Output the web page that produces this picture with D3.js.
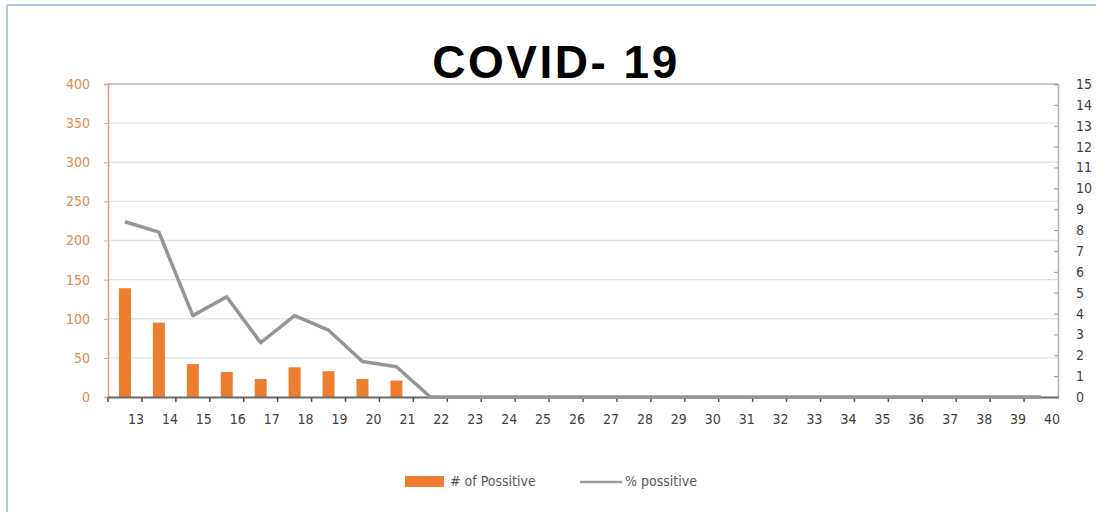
<!DOCTYPE html>
<html>
<head>
<meta charset="utf-8">
<script src="https://cdn.jsdelivr.net/npm/d3@7"></script>
<style>
body { margin: 0; background: #fff; }
svg { display: block; }
.axis text { font-family: "Liberation Sans Narrow", "DejaVu Sans Condensed", "Liberation Sans", sans-serif; }
</style>
</head>
<body>
<script>
// data
var weeks = ["13","14","15","16","17","18","19","20","21","22","23","24","25","26","27","28","29","30","31","32","33","34","35","36","37","38","39","40"];
var positives = [139, 95, 42, 32, 23, 38, 33, 23, 21, null, null, null, null, null, null, null, null, null, null, null, null, null, null, null, null, null, null, null];
var pctPositive = [8.4, 7.9, 3.9, 4.8, 2.6, 3.9, 3.2, 1.7, 1.45, 0, 0, 0, 0, 0, 0, 0, 0, 0, 0, 0, 0, 0, 0, 0, 0, 0, 0, 0];
var leftTicks = [0, 50, 100, 150, 200, 250, 300, 350, 400];
var rightTicks = [0,1,2,3,4,5,6,7,8,9,10,11,12,13,14,15];

var W = 1096, H = 512;
var margin = {top: 84, right: 38, bottom: 115, left: 108};
var width = W - margin.left - margin.right,
    height = H - margin.top - margin.bottom;

var svg = d3.select("body").append("svg")
    .attr("width", W)
    .attr("height", H);

// outer frame (top + left edge visible)
svg.append("line").attr("x1", 7).attr("x2", W).attr("y1", 5).attr("y2", 5)
    .attr("stroke", "#b4c7e7").attr("stroke-width", 2);
svg.append("line").attr("x1", 7).attr("x2", 7).attr("y1", 5).attr("y2", H)
    .attr("stroke", "#b4c7e7").attr("stroke-width", 2);

svg.append("text")
    .attr("x", 556).attr("y", 78)
    .attr("text-anchor", "middle")
    .attr("font-family", "Liberation Sans, Arial, sans-serif")
    .attr("font-weight", "bold")
    .attr("font-size", 46)
    .attr("letter-spacing", 2.5)
    .attr("fill", "#000")
    .text("COVID- 19");

var g = svg.append("g").attr("transform", "translate(" + margin.left + "," + margin.top + ")");

var x = d3.scaleBand().domain(weeks).range([0, width]);
var yL = d3.scaleLinear().domain([0, 400]).range([height, 0]);
var yR = d3.scaleLinear().domain([0, 15]).range([height, 0]);

// gridlines
g.append("g")
    .selectAll("line")
    .data(leftTicks.slice(1))
    .join("line")
    .attr("x1", 0).attr("x2", width)
    .attr("y1", function(d) { return yL(d); })
    .attr("y2", function(d) { return yL(d); })
    .attr("stroke", function(d) { return d == 400 ? "#c8c8c8" : "#e3e3e3"; })
    .attr("stroke-width", function(d) { return d == 400 ? 2 : 1.3; });

// bars
var bw = 12;
g.append("g")
    .selectAll("rect")
    .data(weeks.map(function(w, i) { return {w: w, v: positives[i]}; }).filter(function(d) { return d.v != null; }))
    .join("rect")
    .attr("x", function(d) { return x(d.w) + x.bandwidth() / 2 - bw / 2; })
    .attr("width", bw)
    .attr("y", function(d) { return yL(d.v); })
    .attr("height", function(d) { return height - yL(d.v); })
    .attr("fill", "#ed7d31");

// left axis
var leftAxis = g.append("g")
    .attr("class", "axis")
    .call(d3.axisLeft(yL).tickValues(leftTicks).tickSize(4).tickPadding(14));
leftAxis.select(".domain").attr("stroke", "#e8a070").attr("stroke-width", 1.5);
leftAxis.selectAll(".tick line").attr("stroke", "#e8a070");
leftAxis.selectAll("text").attr("fill", "#e0894c").attr("font-size", 14);

// right axis
var rightAxis = g.append("g")
    .attr("class", "axis")
    .attr("transform", "translate(" + width + ",0)")
    .call(d3.axisRight(yR).tickValues(rightTicks).tickSize(-4).tickPadding(18));
rightAxis.select(".domain").attr("stroke", "#b0b0b0").attr("stroke-width", 1.5);
rightAxis.selectAll(".tick line").attr("stroke", "#9a9a9a");
rightAxis.selectAll("text").attr("fill", "#404040").attr("font-size", 14);

// bottom axis: ticks at category boundaries
var xAxis = g.append("g")
    .attr("class", "axis")
    .attr("transform", "translate(0," + height + ")")
    .call(d3.axisBottom(x).tickSize(0).tickPadding(17));
xAxis.select(".domain").attr("stroke", "#6a6a6a").attr("stroke-width", 1.8);
xAxis.selectAll("text").attr("fill", "#404040").attr("font-size", 14).attr("dx", 11);
xAxis.selectAll(".bound")
    .data(weeks)
    .join("line")
    .attr("class", "bound")
    .attr("x1", function(d) { return x(d); })
    .attr("x2", function(d) { return x(d); })
    .attr("y1", 0).attr("y2", 5)
    .attr("stroke", "#555").attr("stroke-width", 1.5);

// line series
var line = d3.line()
    .x(function(d, i) { return x(weeks[i]) + x.bandwidth() / 2; })
    .y(function(d) { return yR(d); });
g.append("path")
    .datum(pctPositive)
    .attr("d", line)
    .attr("fill", "none")
    .attr("stroke", "#959595")
    .attr("stroke-width", 3.5)
    .attr("stroke-linejoin", "round");

// legend
var lg = svg.append("g").attr("font-family", "Liberation Sans Narrow, DejaVu Sans Condensed, sans-serif")
    .attr("font-size", 14).attr("fill", "#595959");
lg.append("rect").attr("x", 405).attr("y", 476).attr("width", 39).attr("height", 11).attr("fill", "#ed7d31");
lg.append("text").attr("x", 450).attr("y", 486).text("# of Possitive");
lg.append("line").attr("x1", 580).attr("x2", 622).attr("y1", 482).attr("y2", 482)
    .attr("stroke", "#9b9b9b").attr("stroke-width", 2.5);
lg.append("text").attr("x", 625).attr("y", 486).text("% possitive");
</script>
</body>
</html>
